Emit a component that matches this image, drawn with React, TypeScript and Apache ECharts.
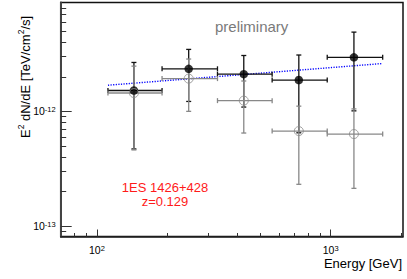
import React, { useEffect, useRef } from "react";
import * as echarts from "echarts";

// ---- data ----
const energyCenter = [144, 247, 425, 731, 1258]; // GeV
const energyLow = [111.5, 190, 328, 562, 967];
const energyHigh = [190, 328, 562, 967, 1670];

const blackFlux = [1.52e-12, 2.35e-12, 2.11e-12, 1.875e-12, 2.96e-12];
const blackFluxLow = [0.47e-12, 1.22e-12, 1.09e-12, 0.65e-12, 1.01e-12];
const blackFluxHigh = [2.67e-12, 3.47e-12, 3.07e-12, 3.1e-12, 4.91e-12];

const greyFlux = [1.445e-12, 1.93e-12, 1.24e-12, 6.73e-13, 6.34e-13];
const greyFluxLow = [4.61e-13, 1.0e-12, 6.47e-13, 2.31e-13, 2.13e-13];
const greyFluxHigh = [2.48e-12, 2.86e-12, 1.84e-12, 1.11e-12, 1.05e-12];

const fitEnergy = [111.5, 1654];
const fitFlux = [1.69e-12, 2.61e-12];

const xMajorTicks = [100, 1000];
const xMinorTicks = [80, 90, 200, 300, 400, 500, 600, 700, 800, 900, 2000];
const yMajorTicks = [1e-13, 1e-12];
const yMinorTicks = [
  9e-14, 2e-13, 3e-13, 4e-13, 5e-13, 6e-13, 7e-13, 8e-13, 9e-13,
  2e-12, 3e-12, 4e-12, 5e-12, 6e-12, 7e-12, 8e-12,
];

const sourceName = "1ES 1426+428";
const sourceRedshift = "z=0.129";

const X_MIN = 70;
const X_MAX = 2040;
const Y_MIN = 8.1e-14;
const Y_MAX = 8.9e-12;

const FONT = "'Liberation Sans', Arial, Helvetica, sans-serif";
const GREY = "#888888";

function errRows(flux: number[], lo: number[], hi: number[]) {
  return energyCenter.map((e, i) => [e, flux[i], energyLow[i], energyHigh[i], lo[i], hi[i]]);
}

function makeErrRender(color: string) {
  return (params: any, api: any) => {
    const x = api.value(0);
    const y = api.value(1);
    const c = api.coord([x, y]);
    const l = api.coord([api.value(2), y]);
    const r = api.coord([api.value(3), y]);
    const b = api.coord([x, api.value(4)]);
    const t = api.coord([x, api.value(5)]);
    const cap = 2.5;
    const style = { stroke: color, lineWidth: 1.3 };
    const mk = (x1: number, y1: number, x2: number, y2: number) => ({
      type: "line",
      shape: { x1, y1, x2, y2 },
      style,
    });
    return {
      type: "group",
      children: [
        mk(l[0], c[1], r[0], c[1]),
        mk(c[0], b[1], c[0], t[1]),
        mk(l[0], c[1] - cap, l[0], c[1] + cap),
        mk(r[0], c[1] - cap, r[0], c[1] + cap),
        mk(c[0] - cap, b[1], c[0] + cap, b[1]),
        mk(c[0] - cap, t[1], c[0] + cap, t[1]),
      ],
    };
  };
}

const powLabel = (v: number) => `{a|10}{b|${Math.round(Math.log10(v))}}`;

export default function App() {
  const ref = useRef<HTMLDivElement>(null);

  useEffect(() => {
    if (!ref.current) return;
    const chart = echarts.init(ref.current, undefined, { renderer: "svg" });

    const labelRich = {
      a: { fontSize: 10.5, fontFamily: FONT, color: "#000", lineHeight: 11, verticalAlign: "bottom" },
      b: { fontSize: 7.5, fontFamily: FONT, color: "#000", verticalAlign: "top", lineHeight: 7 },
    };

    const option: any = {
      animation: false,
      backgroundColor: "#fff",
      grid: {
        left: 60.7,
        top: 2.5,
        right: 4,
        bottom: 42.5,
        show: true,
        borderColor: "#111",
        borderWidth: 1.5,
        backgroundColor: "transparent",
        containLabel: false,
      },
      xAxis: [
        {
          type: "log",
          min: X_MIN,
          max: X_MAX,
          position: "bottom",
          axisLine: { show: true, lineStyle: { color: "#222", width: 1.5 } },
          axisTick: { show: true, inside: true, length: 7, customValues: xMajorTicks, lineStyle: { color: "#333", width: 1 } },
          axisLabel: { show: true, customValues: xMajorTicks, formatter: powLabel, rich: labelRich, margin: 7.5 },
          splitLine: { show: false },
          minorTick: { show: false },
        },
        {
          type: "log",
          min: X_MIN,
          max: X_MAX,
          position: "bottom",
          axisLine: { show: false },
          axisTick: { show: true, inside: true, length: 3.5, customValues: xMinorTicks, lineStyle: { color: "#333", width: 1 } },
          axisLabel: { show: false },
          splitLine: { show: false },
        },
      ],
      yAxis: [
        {
          type: "log",
          min: Y_MIN,
          max: Y_MAX,
          position: "left",
          axisLine: { show: true, lineStyle: { color: "#444", width: 2 } },
          axisTick: { show: true, inside: true, length: 11, customValues: yMajorTicks, lineStyle: { color: "#333", width: 1 } },
          axisLabel: { show: true, customValues: yMajorTicks, formatter: powLabel, rich: labelRich, margin: 5 },
          splitLine: { show: false },
        },
        {
          type: "log",
          min: Y_MIN,
          max: Y_MAX,
          position: "left",
          axisLine: { show: false },
          axisTick: { show: true, inside: true, length: 5.5, customValues: yMinorTicks, lineStyle: { color: "#333", width: 1 } },
          axisLabel: { show: false },
          splitLine: { show: false },
        },
      ],
      series: [
        {
          type: "line",
          data: fitEnergy.map((e, i) => [e, fitFlux[i]]),
          symbol: "none",
          lineStyle: { color: "#0000ff", width: 1.4, type: [1.2, 1.4] },
          z: 2,
        },
        {
          type: "custom",
          renderItem: makeErrRender("#111"),
          data: errRows(blackFlux, blackFluxLow, blackFluxHigh),
          encode: { x: 0, y: 1 },
          clip: false,
          z: 3,
        },
        {
          type: "custom",
          renderItem: makeErrRender(GREY),
          data: errRows(greyFlux, greyFluxLow, greyFluxHigh),
          encode: { x: 0, y: 1 },
          clip: false,
          z: 4,
        },
        {
          type: "scatter",
          data: energyCenter.map((e, i) => [e, blackFlux[i]]),
          symbol: "circle",
          symbolSize: 8.5,
          itemStyle: { color: "#000" },
          z: 5,
        },
        {
          type: "scatter",
          data: energyCenter.map((e, i) => [e, greyFlux[i]]),
          symbol: "circle",
          symbolSize: 9,
          itemStyle: { color: "rgba(0,0,0,0)", borderColor: GREY, borderWidth: 1 },
          z: 6,
        },
      ],
      graphic: [
        {
          type: "text",
          left: 215,
          top: 19,
          style: { text: "preliminary", fontSize: 15, fontFamily: FONT, fill: "#7a7a7a" },
        },
        {
          type: "text",
          x: 165,
          y: 187.5,
          style: { text: sourceName, fontSize: 13, lineHeight: 12.5, fontFamily: FONT, fill: "#ff1a1a", align: "center", verticalAlign: "middle" },
        },
        {
          type: "text",
          x: 165,
          y: 201.5,
          style: { text: sourceRedshift, fontSize: 13, lineHeight: 12.5, fontFamily: FONT, fill: "#ff1a1a", align: "center", verticalAlign: "middle" },
        },
        {
          type: "text",
          x: 402,
          y: 263,
          style: { text: "Energy [GeV]", fontSize: 13, lineHeight: 12, fontFamily: FONT, fill: "#000", align: "right", verticalAlign: "middle" },
        },
        {
          type: "text",
          x: 24,
          y: 138,
          rotation: Math.PI / 2,
          style: {
            text: "{a|E}{s|2}{a| dN/dE [TeV/cm}{s|2}{a|/s]}",
            align: "left",
            verticalAlign: "middle",
            rich: {
              a: { fontSize: 13, fontFamily: FONT, fill: "#000", color: "#000", lineHeight: 16, verticalAlign: "bottom" },
              s: { fontSize: 8.5, fontFamily: FONT, fill: "#000", color: "#000", lineHeight: 9, verticalAlign: "top" },
            },
          },
        },
      ],
    };

    chart.setOption(option);
    return () => chart.dispose();
  }, []);

  return <div ref={ref} style={{ width: 407, height: 279, position: "absolute", left: 0, top: 0 }} />;
}
